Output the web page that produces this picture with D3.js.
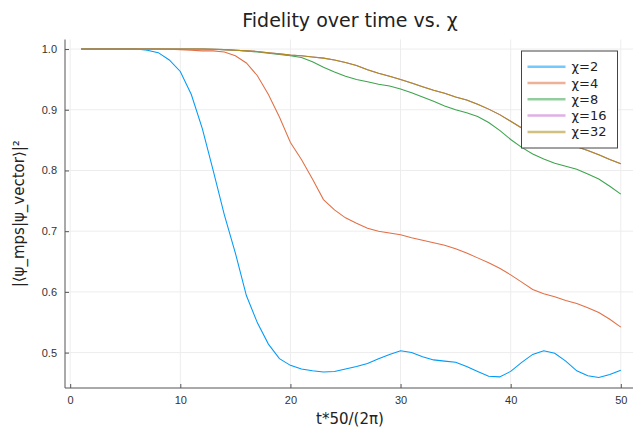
<!DOCTYPE html>
<meta charset="utf-8">
<style>
    body { margin: 0; background: #fff; }
    svg { display: block; font-family: "DejaVu Sans", sans-serif; }
    .grid line { stroke: #ededed; stroke-width: 1; }
    .axis path, .axis line { stroke: #555; }
    .axis text { fill: #333; font-size: 11px; }
    .series { fill: none; stroke-width: 1.05; }
</style>
<svg width="633" height="434"></svg>
<script src="https://d3js.org/d3.v7.min.js"></script>
<script>

    var steps = d3.range(1, 51);

    var chi2 = [1.0, 1.0, 1.0, 1.0, 1.0, 1.0, 0.998, 0.994, 0.982, 0.963,
        0.925, 0.869, 0.799, 0.727, 0.664, 0.594, 0.549, 0.514, 0.490, 0.479,
        0.473, 0.470, 0.468, 0.469, 0.473, 0.477, 0.482, 0.490, 0.497, 0.503,
        0.500, 0.493, 0.488, 0.486, 0.484, 0.477, 0.469, 0.461, 0.460, 0.469,
        0.484, 0.497, 0.503, 0.499, 0.486, 0.470, 0.462, 0.459, 0.464, 0.471];

    var chi4 = [1.0, 1.0, 1.0, 1.0, 1.0, 1.0, 1.0, 1.0, 0.9995, 0.999,
        0.998, 0.997, 0.997, 0.995, 0.989, 0.977, 0.956, 0.925, 0.888, 0.846,
        0.818, 0.786, 0.752, 0.735, 0.722, 0.713, 0.705, 0.700, 0.697, 0.694,
        0.689, 0.685, 0.681, 0.677, 0.671, 0.664, 0.656, 0.648, 0.639, 0.628,
        0.616, 0.604, 0.597, 0.592, 0.586, 0.581, 0.574, 0.566, 0.555, 0.542];

    var chi8 = [1.0, 1.0, 1.0, 1.0, 1.0, 1.0, 1.0, 1.0, 1.0, 1.0,
        1.0, 1.0, 0.9995, 0.999, 0.998, 0.997, 0.995, 0.993, 0.991, 0.989,
        0.986, 0.979, 0.970, 0.962, 0.955, 0.950, 0.946, 0.942, 0.939, 0.934,
        0.928, 0.921, 0.914, 0.906, 0.900, 0.895, 0.889, 0.879, 0.866, 0.851,
        0.838, 0.827, 0.819, 0.812, 0.807, 0.802, 0.794, 0.786, 0.774, 0.761];

    var chi16 = [1.0, 1.0, 1.0, 1.0, 1.0, 1.0, 1.0, 1.0, 1.0, 1.0,
        1.0, 1.0, 0.9995, 0.999, 0.998, 0.997, 0.996, 0.994, 0.992, 0.990,
        0.989, 0.987, 0.985, 0.982, 0.978, 0.973, 0.966, 0.960, 0.955, 0.950,
        0.944, 0.938, 0.932, 0.927, 0.921, 0.916, 0.909, 0.901, 0.892, 0.881,
        0.870, 0.862, 0.855, 0.849, 0.844, 0.839, 0.833, 0.826, 0.818, 0.811];

    var chi32 = [1.0, 1.0, 1.0, 1.0, 1.0, 1.0, 1.0, 1.0, 1.0, 1.0,
        1.0, 1.0, 0.9995, 0.999, 0.998, 0.997, 0.996, 0.994, 0.992, 0.990,
        0.989, 0.987, 0.985, 0.982, 0.978, 0.973, 0.966, 0.960, 0.955, 0.950,
        0.944, 0.938, 0.932, 0.927, 0.921, 0.916, 0.909, 0.901, 0.892, 0.881,
        0.870, 0.862, 0.855, 0.849, 0.844, 0.839, 0.833, 0.826, 0.818, 0.811];

    var seriesNames = ["χ=2", "χ=4", "χ=8", "χ=16", "χ=32"];
    var seriesValues = [chi2, chi4, chi8, chi16, chi32];
    var colors = ["#009af9", "#e26f46", "#3da44d", "#c271d2", "#ac8e18"];

    var xTicks = [0, 10, 20, 30, 40, 50];
    var yTicks = [0.5, 0.6, 0.7, 0.8, 0.9, 1.0];

    var svg = d3.select("svg"),
        pLeft = 65, pRight = 637, pTop = 39.5, pBottom = 388;

    var x = d3.scaleLinear().domain([-0.47, 51.47]).range([pLeft, pRight]);
    var y = d3.scaleLinear().domain([0.4417, 1.0157]).range([pBottom, pTop]);

    // grid
    svg.append("g").attr("class", "grid")
        .selectAll("line").data(xTicks).enter().append("line")
        .attr("x1", function (d) { return x(d); }).attr("x2", function (d) { return x(d); })
        .attr("y1", pTop).attr("y2", pBottom);
    svg.append("g").attr("class", "grid")
        .selectAll("line").data(yTicks).enter().append("line")
        .attr("x1", pLeft).attr("x2", pRight)
        .attr("y1", function (d) { return y(d); }).attr("y2", function (d) { return y(d); });

    // axes (ticks point inward like Plots.jl)
    svg.append("g")
        .attr("class", "axis")
        .attr("transform", "translate(0," + pBottom + ")")
        .call(d3.axisTop(x).tickValues(xTicks).tickSize(4).tickFormat(d3.format("d")))
        .call(function (g) {
            g.select(".domain").attr("d", "M" + pLeft + ",0H" + pRight);
            g.selectAll("text").attr("y", 16).attr("dy", null);
        });

    svg.append("g")
        .attr("class", "axis")
        .attr("transform", "translate(" + pLeft + ",0)")
        .call(d3.axisRight(y).tickValues(yTicks).tickSize(4).tickFormat(d3.format(".1f")))
        .call(function (g) {
            g.select(".domain").attr("d", "M0," + pTop + "V" + pBottom);
            g.selectAll("text").attr("x", -8).attr("text-anchor", "end");
        });

    // lines
    var line = d3.line()
        .x(function (d, i) { return x(steps[i]); })
        .y(function (d) { return y(d); });

    svg.append("g").selectAll("path")
        .data(seriesValues)
        .enter().append("path")
        .attr("class", "series")
        .attr("stroke", function (d, i) { return colors[i]; })
        .attr("d", line);

    // legend
    var lg = svg.append("g").attr("transform", "translate(521.5,51)");
    lg.append("rect")
        .attr("width", 96).attr("height", 97)
        .attr("fill", "#fff").attr("stroke", "#444").attr("stroke-width", 1);
    var items = lg.selectAll("g.item").data(seriesNames).enter().append("g")
        .attr("class", "item")
        .attr("transform", function (d, i) { return "translate(0," + (15.7 + i * 16.3) + ")"; });
    items.append("line")
        .attr("x1", 6).attr("x2", 44)
        .attr("stroke", function (d, i) { return colors[i]; })
        .attr("stroke-width", 2.5).attr("stroke-opacity", 0.55);
    items.append("text")
        .attr("x", 50).attr("dy", "0.35em")
        .attr("font-size", "13px").attr("fill", "#222")
        .text(function (d) { return d; });

    // titles
    svg.append("text")
        .attr("x", 350).attr("y", 27)
        .attr("text-anchor", "middle")
        .attr("font-size", "19px").attr("fill", "#222")
        .text("Fidelity over time vs. χ");

    svg.append("text")
        .attr("x", 350).attr("y", 424)
        .attr("text-anchor", "middle")
        .attr("font-size", "15px").attr("fill", "#222")
        .text("t*50/(2π)");

    svg.append("text")
        .attr("transform", "translate(24," + ((pTop + pBottom) / 2) + ") rotate(-90)")
        .attr("text-anchor", "middle")
        .attr("font-size", "15px").attr("fill", "#222")
        .text("|⟨ψ_mps|ψ_vector⟩|²");

</script>
